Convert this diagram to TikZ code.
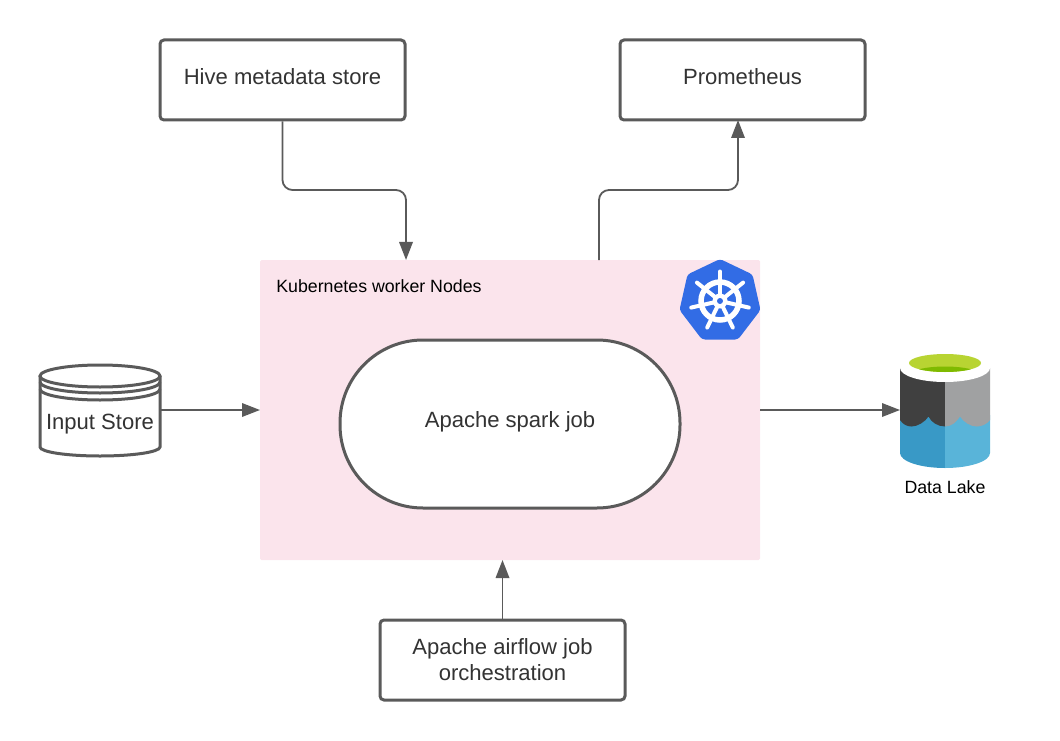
\documentclass[tikz,border=0pt]{standalone}
\usepackage{fontspec}
\setmainfont{Liberation Sans}
\usetikzlibrary{arrows.meta}

\definecolor{boxgray}{HTML}{5A5A5A}
\definecolor{textgray}{HTML}{333333}
\definecolor{workerpink}{HTML}{FBE4EC}
\definecolor{helmblue}{HTML}{326CE5}

\tikzset{
  bigtext/.style={font=\fontsize{12.55pt}{14.7pt}\selectfont, text=textgray, align=center},
  smalltext/.style={font=\fontsize{10.1pt}{12pt}\selectfont, text=black},
  servicebox/.style={draw=boxgray, line width=0.06cm, rounded corners=0.08cm, fill=white,
    minimum width=4.9cm, minimum height=1.6cm, bigtext},
  connector/.style={draw=boxgray, line width=0.036cm, rounded corners=0.2cm,
    -{Triangle[length=0.36cm, width=0.27cm]}},
  storeline/.style={draw=boxgray, line width=0.06cm},
  anchorbox/.style={minimum width=#1, outer sep=0pt, inner sep=0pt}
}

\begin{document}
\begin{tikzpicture}
  \useasboundingbox (0,0) rectangle (21.2,14.8);

  % Marking worker area
  \node (workers) [fill=workerpink, rounded corners=0.03cm, minimum width=10cm, minimum height=6cm, outer sep=0pt] at (10.2,6.6) {};%
  \node (workerlabel) [smalltext, anchor=west, inner sep=0pt] at (5.52,9.07) {Kubernetes worker Nodes};%

  % Marking spark job
  \node (spark) [draw=boxgray, line width=0.06cm, fill=white, rounded corners=1.66cm, minimum width=6.8cm, minimum height=3.36cm] at (10.2,6.32) {};%
  \node (sparklabel) [bigtext] at (10.2,6.36) {Apache spark job};%

  % Marking service boxes
  \node (hive) [servicebox] at (5.65,13.2) {};%
  \node (hivelabel) [bigtext] at (5.65,13.26) {Hive metadata store};%
  \node (prometheus) [servicebox] at (14.85,13.2) {};%
  \node (promlabel) [bigtext] at (14.85,13.26) {Prometheus};%
  \node (airflow) [servicebox] at (10.05,1.6) {Apache airflow job\\orchestration};%

  % Drawing input store
  \node (store) [anchorbox=2.4cm, minimum height=1.8cm] at (2.0,6.6) {};%
  \draw [storeline, fill=white] (0.8,7.28) -- (0.8,5.86) arc [start angle=180, end angle=360, x radius=1.2, y radius=0.18] -- (3.2,7.28);%
  \draw [storeline] (2.0,7.28) ellipse [x radius=1.2, y radius=0.22];%
  \draw [storeline] (0.8,7.16) arc [start angle=180, end angle=360, x radius=1.2, y radius=0.22];%
  \draw [storeline] (0.8,7.02) arc [start angle=180, end angle=360, x radius=1.2, y radius=0.22];%
  \node (storelabel) [bigtext] at (2.0,6.32) {Input Store};%

  % Drawing data lake
  \node (lake) [anchorbox=1.8cm, minimum height=2cm] at (18.9,6.6) {};%
  \fill [color={rgb,255:red,57;green,153;blue,198}] (18.0,6.5) -- (18.0,5.74) arc [start angle=180, end angle=270, x radius=0.9, y radius=0.3] -- (18.9,6.5) -- cycle;%
  \fill [color={rgb,255:red,89;green,180;blue,217}] (19.8,6.5) -- (19.8,5.74) arc [start angle=0, end angle=-90, x radius=0.9, y radius=0.3] -- (18.9,6.5) -- cycle;%
  \fill [color={rgb,255:red,64;green,64;blue,64}] (18.0,7.44) -- (18.0,6.40) .. controls (18.06,6.31) and (18.14,6.27) .. (18.23,6.27) .. controls (18.35,6.27) and (18.50,6.36) .. (18.57,6.47) .. controls (18.62,6.36) and (18.75,6.27) .. (18.9,6.27) -- (18.9,7.44) -- cycle;%
  \fill [color={rgb,255:red,160;green,161;blue,162}] (18.9,7.44) -- (18.9,6.27) .. controls (19.03,6.27) and (19.13,6.36) .. (19.2,6.47) .. controls (19.27,6.36) and (19.41,6.27) .. (19.53,6.27) .. controls (19.64,6.27) and (19.74,6.32) .. (19.8,6.40) -- (19.8,7.44) -- cycle;%
  \fill [white] (18.9,7.44) ellipse [x radius=0.9, y radius=0.28];%
  \fill [color={rgb,255:red,184;green,212;blue,50}] (18.9,7.54) ellipse [x radius=0.72, y radius=0.18];%
  \begin{scope}
    \clip (18.9,7.54) ellipse [x radius=0.72, y radius=0.18];
    \fill [color={rgb,255:red,127;green,186;blue,0}] (18.9,7.3) ellipse [x radius=0.7, y radius=0.17];%
  \end{scope}
  \node (lakelabel) [smalltext] at (18.9,5.06) {Data Lake};%

  % Drawing kubernetes wheel
  \begin{scope}[shift={(14.4,8.78)}]
    \fill [helmblue, rounded corners=0.06cm] (0,0.84) -- (0.65,0.53) -- (0.81,-0.18) -- (0.36,-0.77) -- (-0.36,-0.77) -- (-0.81,-0.18) -- (-0.65,0.53) -- cycle;%
    \draw [white, line width=0.11cm] (0,0) circle (0.38);%
    \foreach \spoke in {0,...,6} {
      \draw [white, line width=0.08cm, line cap=round] (0,0) -- ({90+\spoke*360/7}:0.59);%
    }
    \fill [white] (0,0) circle (0.15);%
    \fill [helmblue] (0,0) circle (0.06);%
  \end{scope}

  % Marking connector ends
  \coordinate (hivebend) at (8.12,11.0);%
  \coordinate (hivein) at (8.12,9.6);%
  \coordinate (promout) at (11.98,9.6);%
  \coordinate (prombend) at (14.76,11.0);%
  \coordinate (promin) at (14.76,12.4);%

  % Drawing connectors
  \draw [connector] (hive.south) |- (hivebend) -- (hivein);%
  \draw [connector] (promout) |- (prombend) -- (promin);%
  \draw [connector] (airflow.north) -- (airflow.north |- workers.south);%
  \draw [connector] (store.east) -- (workers.west);%
  \draw [connector] (workers.east) -- (lake.west);%
\end{tikzpicture}
\end{document}
